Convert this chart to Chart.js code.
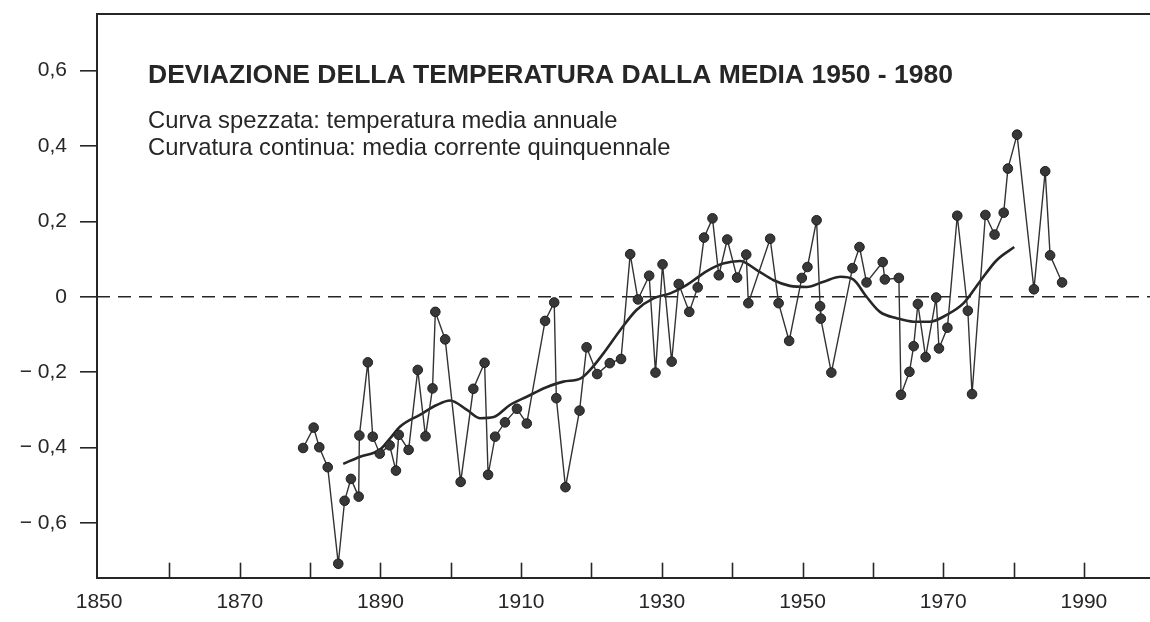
<!DOCTYPE html>
<html>
<head>
<meta charset="utf-8">
<script src="https://cdn.jsdelivr.net/npm/chart.js@4.4.1/dist/chart.umd.min.js"></script>
<style>
  html, body { margin: 0; padding: 0; background: #fff; }
  #wrap { width: 1150px; height: 622px; }
</style>
</head>
<body>
<div id="wrap"><canvas id="chart" width="1150" height="622"></canvas></div>
<script>
// temperatura media annuale (anni)
const annualYears = [
  1879.0, 1880.5, 1881.3, 1882.5, 1884.0, 1884.9, 1885.8, 1886.9, 1887.0, 1888.2,
  1888.9, 1889.9, 1891.3, 1892.2, 1892.6, 1894.0, 1895.3, 1896.4, 1897.4, 1897.8,
  1899.2, 1901.4, 1903.2, 1904.8, 1905.3, 1906.3, 1907.7, 1909.4, 1910.8, 1913.4,
  1914.7, 1915.0, 1916.3, 1918.3, 1919.3, 1920.8, 1922.6, 1924.2, 1925.5, 1926.6,
  1928.2, 1929.1, 1930.1, 1931.4, 1932.4, 1933.9, 1935.1, 1936.0, 1937.2, 1938.1,
  1939.3, 1940.7, 1942.0, 1942.3, 1945.4, 1946.6, 1948.1, 1949.9, 1950.7, 1952.0,
  1952.5, 1952.6, 1954.1, 1957.1, 1958.1, 1959.1, 1961.4, 1961.7, 1963.7, 1964.0,
  1965.2, 1965.8, 1966.4, 1967.5, 1969.0, 1969.4, 1970.6, 1972.0, 1973.5, 1974.1,
  1976.0, 1977.3, 1978.6, 1979.2, 1980.5, 1982.9, 1984.5, 1985.2, 1986.9
];
const annualValues = [
  -0.401, -0.347, -0.399, -0.452, -0.708, -0.541, -0.483, -0.530, -0.368, -0.174,
  -0.371, -0.416, -0.394, -0.461, -0.366, -0.406, -0.194, -0.370, -0.243, -0.040,
  -0.113, -0.491, -0.244, -0.175, -0.472, -0.371, -0.333, -0.297, -0.336, -0.064,
  -0.015, -0.269, -0.505, -0.302, -0.134, -0.205, -0.176, -0.165, 0.113, -0.007,
  0.056, -0.201, 0.086, -0.172, 0.034, -0.040, 0.025, 0.157, 0.208, 0.057,
  0.152, 0.051, 0.112, -0.017, 0.154, -0.017, -0.117, 0.050, 0.079, 0.203,
  -0.025, -0.058, -0.201, 0.076, 0.132, 0.038, 0.092, 0.046, 0.050, -0.260,
  -0.199, -0.131, -0.019, -0.160, -0.002, -0.137, -0.082, 0.215, -0.037, -0.258,
  0.217, 0.165, 0.223, 0.340, 0.430, 0.020, 0.333, 0.110, 0.038
];

// media corrente quinquennale
const meanYears = [
  1884.7, 1887.1, 1889.9, 1891.4, 1892.8, 1895.6, 1898.0, 1899.9, 1902.3, 1904.2,
  1906.1, 1908.4, 1910.8, 1913.6, 1916.0, 1918.4, 1919.8, 1921.7, 1924.1, 1926.4,
  1928.8, 1931.2, 1933.5, 1935.2, 1936.4, 1938.7, 1941.1, 1943.5, 1945.9, 1948.2,
  1950.6, 1953.0, 1955.4, 1957.2, 1959.1, 1961.0, 1963.4, 1965.8, 1968.1, 1970.5,
  1972.9, 1975.2, 1977.6, 1980.1
];
const meanValues = [
  -0.443, -0.424, -0.406, -0.375, -0.344, -0.313, -0.287, -0.275, -0.300, -0.322,
  -0.319, -0.287, -0.265, -0.240, -0.225, -0.217, -0.194, -0.150, -0.088, -0.035,
  -0.004, 0.009, 0.031, 0.053, 0.068, 0.088, 0.095, 0.071, 0.044, 0.029,
  0.026, 0.040, 0.053, 0.046, 0.000, -0.040, -0.057, -0.066, -0.066, -0.048,
  -0.017, 0.040, 0.097, 0.132
];

const xTicks = [1850, 1860, 1870, 1880, 1890, 1900, 1910, 1920, 1930, 1940, 1950, 1960, 1970, 1980, 1990];
const xLabelYears = [1850, 1870, 1890, 1910, 1930, 1950, 1970, 1990];
const yTicks = [-0.6, -0.4, -0.2, 0, 0.2, 0.4, 0.6];

const titleText = 'DEVIAZIONE DELLA TEMPERATURA DALLA MEDIA 1950 - 1980';
const noteLines = [
  'Curva spezzata: temperatura media annuale',
  'Curvatura continua: media corrente quinquennale'
];

const X_MIN = 1849.7, X_MAX = 1999.4;
const Y_MIN = -0.745, Y_MAX = 0.75;

const ink = '#262626';
const family = "'Liberation Sans', Arial, Helvetica, sans-serif";

const fmtY = (v) => {
  if (Math.abs(v) < 1e-9) return '0';
  const s = Math.abs(v).toFixed(1).replace('.', ',');
  return v < 0 ? '\u2212 ' + s : s;
};

// cornice in alto, tacche interne sull'asse x, titolo e note
const framePlugin = {
  id: 'frame',
  afterDraw(chart) {
    const { ctx, chartArea: a, scales: { x } } = chart;
    ctx.save();
    ctx.strokeStyle = ink;
    ctx.lineWidth = 2;
    ctx.beginPath();
    ctx.moveTo(a.left, a.top);
    ctx.lineTo(a.right, a.top);
    ctx.stroke();

    ctx.lineWidth = 1.6;
    xTicks.forEach(v => {
      if (v < X_MIN + 1) return;
      const px = Math.round(x.getPixelForValue(v)) + 0.5;
      ctx.beginPath();
      ctx.moveTo(px, a.bottom);
      ctx.lineTo(px, a.bottom - 15);
      ctx.stroke();
    });

    ctx.fillStyle = ink;
    ctx.textBaseline = 'alphabetic';
    ctx.textAlign = 'left';
    ctx.font = `bold 26.5px ${family}`;
    ctx.fillText(titleText, 148, 83);
    ctx.font = `23.8px ${family}`;
    ctx.fillText(noteLines[0], 148, 128);
    ctx.fillText(noteLines[1], 148, 155);
    ctx.restore();
  }
};

const ctx = document.getElementById('chart').getContext('2d');
new Chart(ctx, {
  type: 'line',
  data: {
    datasets: [
      {
        label: 'zero',
        data: [{ x: X_MIN, y: 0 }, { x: X_MAX, y: 0 }],
        borderColor: ink,
        borderWidth: 1.6,
        borderDash: [13, 8],
        pointRadius: 0,
        order: 3
      },
      {
        label: 'Media corrente quinquennale',
        data: meanYears.map((yr, i) => ({ x: yr, y: meanValues[i] })),
        borderColor: ink,
        borderWidth: 2.6,
        pointRadius: 0,
        cubicInterpolationMode: 'monotone',
        order: 2
      },
      {
        label: 'Temperatura media annuale',
        data: annualYears.map((yr, i) => ({ x: yr, y: annualValues[i] })),
        borderColor: '#333',
        borderWidth: 1.4,
        tension: 0,
        pointRadius: 4.8,
        pointBackgroundColor: '#383838',
        pointBorderColor: '#1e1e1e',
        pointBorderWidth: 1,
        order: 1
      }
    ]
  },
  options: {
    responsive: false,
    animation: false,
    devicePixelRatio: 1,
    layout: { autoPadding: false, padding: { top: 14, right: 0, bottom: 0, left: 0 } },
    plugins: {
      legend: { display: false },
      tooltip: { enabled: false }
    },
    scales: {
      x: {
        type: 'linear',
        min: X_MIN,
        max: X_MAX,
        afterBuildTicks: s => { s.ticks = xTicks.map(v => ({ value: v })); },
        afterFit: s => { s.height = 44.3; s.paddingLeft = 0; s.paddingRight = 0; },
        grid: { display: true, drawOnChartArea: false, drawTicks: false },
        border: { display: true, color: ink, width: 2 },
        ticks: {
          color: ink,
          font: { family, size: 21 },
          padding: 12,
          maxRotation: 0,
          autoSkip: false,
          callback: v => xLabelYears.includes(v) ? String(v) : ''
        }
      },
      y: {
        type: 'linear',
        min: Y_MIN,
        max: Y_MAX,
        afterBuildTicks: s => { s.ticks = yTicks.map(v => ({ value: v })); },
        afterFit: s => { s.width = 97; s.paddingTop = 0; s.paddingBottom = 0; },
        grid: { display: true, drawOnChartArea: false, drawTicks: true, tickLength: 17, color: ink, lineWidth: 1.6 },
        border: { display: true, color: ink, width: 2 },
        ticks: {
          color: ink,
          font: { family, size: 21 },
          padding: 13,
          callback: v => fmtY(v)
        }
      }
    }
  },
  plugins: [framePlugin]
});
</script>
</body>
</html>
